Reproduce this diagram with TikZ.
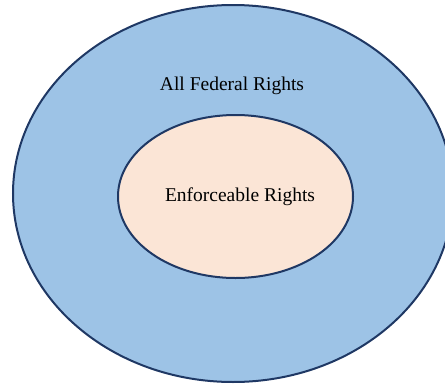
\documentclass[tikz,border=0pt]{standalone}
\usepackage{fontspec}
\setmainfont{Liberation Serif}
\usetikzlibrary{shapes.geometric}
\definecolor{outerfill}{HTML}{9DC3E6}
\definecolor{innerfill}{HTML}{FBE5D6}
\definecolor{edgecol}{HTML}{1F3864}
\begin{document}
\begin{tikzpicture}[x=1pt,y=-1pt,
  set/.style={ellipse, draw=edgecol, line width=2pt, inner sep=0pt},
  lbl/.style={font=\fontsize{19.5}{24}\selectfont, text=black, inner sep=0pt}]
\useasboundingbox (0,0) rectangle (445,386);
\node[set, fill=outerfill, minimum width=440pt, minimum height=377pt] (outer) at (233,193.5) {};
\node[set, fill=innerfill, minimum width=235pt, minimum height=163pt] (inner) at (235.5,196.5) {};
\node[lbl] (t1) at (232,86) {All Federal Rights};
\node[lbl] (t2) at (240,197) {Enforceable Rights};
\end{tikzpicture}
\end{document}
